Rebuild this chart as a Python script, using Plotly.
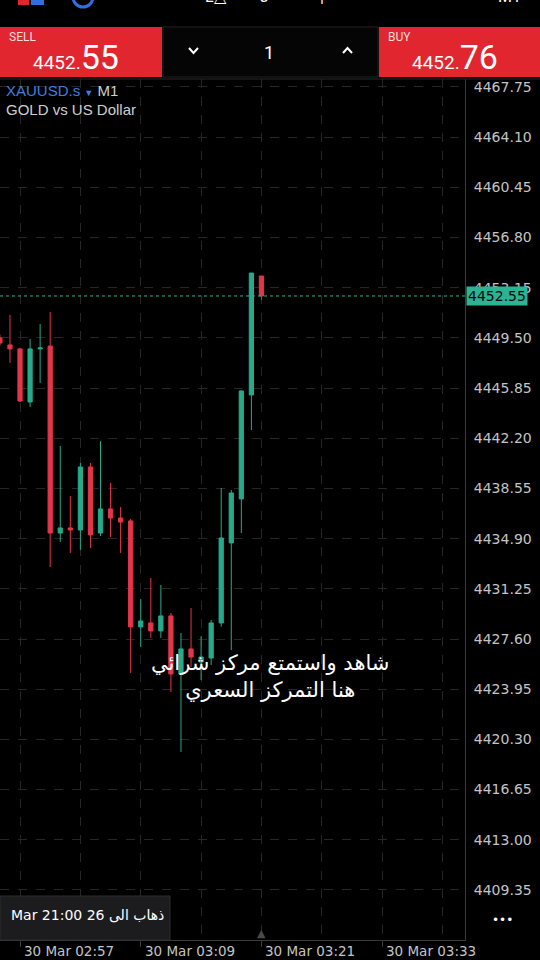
import plotly.graph_objects as go

# one-minute XAUUSD.s candles, 30 Mar
times = ["02:55", "02:56", "02:57", "02:58", "02:59", "03:00", "03:01", "03:02", "03:03",
         "03:04", "03:05", "03:06", "03:07", "03:08", "03:09", "03:10", "03:11", "03:12",
         "03:13", "03:14", "03:15", "03:16", "03:17", "03:18", "03:19", "03:20", "03:21"]
opens = [4449.49, 4448.99, 4448.70, 4444.84, 4448.70, 4448.91, 4435.31, 4435.68, 4435.53,
         4440.11, 4435.31, 4437.06, 4436.40, 4436.19, 4428.48, 4428.77, 4428.19, 4429.28,
         4425.06, 4426.88, 4425.93, 4426.22, 4428.77, 4434.59, 4437.79, 4445.35, 4454.00]
highs = [4449.75, 4451.17, 4448.77, 4449.42, 4450.51, 4451.39, 4441.64, 4438.00, 4440.40,
         4440.40, 4441.99, 4438.95, 4437.20, 4436.33, 4430.51, 4432.04, 4431.53, 4429.49,
         4428.04, 4429.86, 4427.82, 4428.99, 4438.58, 4438.44, 4445.70, 4454.22, 4454.00]
lows = [4448.95, 4447.68, 4444.84, 4444.48, 4446.22, 4432.84, 4434.66, 4433.86, 4434.08,
        4434.22, 4435.09, 4435.02, 4433.86, 4425.13, 4427.02, 4427.68, 4427.68, 4423.75,
        4419.38, 4425.57, 4424.62, 4425.71, 4428.50, 4426.80, 4435.31, 4442.80, 4452.26]
closes = [4449.13, 4448.70, 4444.91, 4448.70, 4448.77, 4435.31, 4435.68, 4435.53, 4440.11,
          4435.17, 4437.06, 4436.40, 4436.11, 4428.48, 4428.91, 4428.19, 4429.28, 4425.06,
          4426.88, 4426.29, 4426.29, 4428.77, 4434.95, 4438.22, 4445.64, 4454.22, 4452.55]

price_ticks = [4409.35, 4413.00, 4416.65, 4420.30, 4423.95, 4427.60, 4431.25, 4434.90,
               4438.55, 4442.20, 4445.85, 4449.50, 4453.15, 4456.80, 4460.45, 4464.10, 4467.75]
time_labels = ["02:57", "03:09", "03:21", "03:33"]

bid = 4452.55
ask = 4452.76
lot = "1"

DAY = "2026-03-30 "
GREEN = "#27a98a"
RED = "#e2364a"
HEAD_RED = "#e1262f"

W, H = 540, 960
ML, MR, MT, MB = 0, 75, 79, 20
PW, PH = W - ML - MR, H - MT - MB


def px(x):
    return (x - ML) / PW


def py(y):
    return (H - MB - y) / PH


fig = go.Figure()

fig.add_trace(go.Candlestick(
    x=[DAY + t for t in times],
    open=opens, high=highs, low=lows, close=closes,
    increasing=dict(line=dict(color=GREEN, width=1), fillcolor=GREEN),
    decreasing=dict(line=dict(color=RED, width=1), fillcolor=RED),
    whiskerwidth=0,
    hoverinfo="skip",
    showlegend=False,
))

shapes = []
annotations = []

# header bar
shapes.append(dict(type="rect", xref="paper", yref="paper", x0=px(0), x1=px(162),
                   y0=py(77), y1=py(27), fillcolor=HEAD_RED, line=dict(width=0), layer="above"))
shapes.append(dict(type="rect", xref="paper", yref="paper", x0=px(163), x1=px(378),
                   y0=py(77), y1=py(27), fillcolor="#050505",
                   line=dict(color="#222222", width=1), layer="above"))
shapes.append(dict(type="rect", xref="paper", yref="paper", x0=px(379), x1=px(540),
                   y0=py(77), y1=py(27), fillcolor=HEAD_RED, line=dict(width=0), layer="above"))
# chevrons
shapes.append(dict(type="path", xref="paper", yref="paper", layer="above",
                   path=f"M {px(189)},{py(48)} L {px(193.5)},{py(53)} L {px(198)},{py(48)}",
                   line=dict(color="white", width=2)))
shapes.append(dict(type="path", xref="paper", yref="paper", layer="above",
                   path=f"M {px(343)},{py(53)} L {px(347.5)},{py(48)} L {px(352)},{py(53)}",
                   line=dict(color="white", width=2)))
# cut-off toolbar icons at the very top
shapes.append(dict(type="rect", xref="paper", yref="paper", x0=px(18), x1=px(29),
                   y0=py(5), y1=py(-4), fillcolor="#e1262f", line=dict(width=0)))
shapes.append(dict(type="rect", xref="paper", yref="paper", x0=px(31), x1=px(44),
                   y0=py(5), y1=py(-4), fillcolor="#2f6fe0", line=dict(width=0)))
shapes.append(dict(type="circle", xref="paper", yref="paper", x0=px(73), x1=px(93),
                   y0=py(7), y1=py(-13), line=dict(color="#2f6fe0", width=3)))

# chart top border
shapes.append(dict(type="line", xref="paper", yref="paper", x0=px(0), x1=px(540),
                   y0=1, y1=1, line=dict(color="#2a2a2a", width=1)))

# current bid line
shapes.append(dict(type="line", xref="paper", yref="y", x0=0, x1=1, y0=bid, y1=bid,
                   line=dict(color="#2bb394", width=1, dash="dot")))

# go-to box
shapes.append(dict(type="rect", xref="paper", yref="paper", x0=px(0), x1=px(170),
                   y0=py(940), y1=py(896), fillcolor="#1c1c1e",
                   line=dict(color="#2c2c2e", width=1), layer="above"))


def txt(x, y, text, size, color="white", xanchor="left", family="Roboto", **kw):
    annotations.append(dict(xref="paper", yref="paper", x=px(x), y=py(y), text=text,
                            showarrow=False, xanchor=xanchor, yanchor="middle",
                            font=dict(size=size, color=color, family=family), **kw))


txt(7, 37, "SELL", 12, "rgba(255,255,255,0.85)")
b_int, b_dec = f"{bid:.2f}".split(".")
a_int, a_dec = f"{ask:.2f}".split(".")
txt(121, 57, f"{b_int}.<span style='font-size:34px'>{b_dec}</span>", 19, xanchor="right")
txt(386, 37, "BUY", 12, "rgba(255,255,255,0.85)")
txt(500, 57, f"{a_int}.<span style='font-size:34px'>{a_dec}</span>", 19, xanchor="right")
txt(269, 52, lot, 18, xanchor="center")

# toolbar fragments cut by the top edge
txt(216, -3, "L△", 16, xanchor="center")
txt(264, -3, "J", 16, xanchor="center")
txt(322, -3, "|", 16, xanchor="center")
txt(510, -3, "M1", 16, xanchor="center")

txt(4, 90, "<span style='color:#3f7fe0'>XAUUSD.s</span> "
           "<span style='color:#3f7fe0;font-size:9px'>▼</span> M1", 15, "#d0d0d0",
    family="Liberation Sans")
txt(4, 109, "GOLD vs US Dollar", 15, "#d0d0d0", family="Liberation Sans")

txt(270, 676, "شاهد واستمتع مركز شرائي<br>هنا التمركز السعري", 21, xanchor="center",
    family="DejaVu Sans", align="center")

txt(9, 915, "\u202bذهاب الى 26 Mar 21:00\u202c", 14, family="DejaVu Sans")

txt(502, 920, "•••", 12, xanchor="center", family="DejaVu Sans")

# current price tag on the axis
annotations.append(dict(xref="paper", yref="y", x=1, y=bid, xanchor="left", yanchor="middle",
                        xshift=1, text=f"{bid:.2f}", showarrow=False, bgcolor="#2bb394",
                        borderpad=1, font=dict(size=14, color="#0a0a0a", family="DejaVu Sans")))

# time labels, left-aligned at their ticks
for t in time_labels:
    annotations.append(dict(xref="x", yref="paper", x=DAY + t, y=0, xanchor="left",
                            yanchor="top", xshift=2, yshift=-1, text="30 Mar " + t,
                            showarrow=False,
                            font=dict(size=13.5, color="#c4c4c4", family="DejaVu Sans")))

# shift marker on the time axis
annotations.append(dict(xref="x", yref="paper", x=DAY + "03:21", y=0, yanchor="bottom",
                        text="▲", showarrow=False, yshift=-2,
                        font=dict(size=11, color="#4a4a4a", family="DejaVu Sans")))

fig.update_layout(
    width=W, height=H,
    margin=dict(l=ML, r=MR, t=MT, b=MB),
    paper_bgcolor="black",
    plot_bgcolor="black",
    boxgap=0.4,
    hovermode=False,
    dragmode=False,
    shapes=shapes,
    annotations=annotations,
    xaxis=dict(
        type="date",
        range=[DAY + "02:55:00.6", DAY + "03:41:14"],
        rangeslider=dict(visible=False),
        tickvals=[DAY + t for t in time_labels],
        showticklabels=False,
        ticks="outside", ticklen=6, tickcolor="#3a3a3a",
        showgrid=True, gridcolor="#262626", griddash="dash", gridwidth=1,
        minor=dict(dtick=6 * 60 * 1000, tick0=DAY + "02:57", showgrid=True,
                   gridcolor="#262626", griddash="dash", gridwidth=1),
        showline=True, linecolor="#3a3a3a", linewidth=1,
        zeroline=False, fixedrange=True,
    ),
    yaxis=dict(
        side="right",
        range=[4405.71, 4468.33],
        tickvals=price_ticks,
        ticktext=[f"{v:.2f}" for v in price_ticks],
        tickfont=dict(size=14, color="#c4c4c4", family="DejaVu Sans"),
        ticklabelstandoff=5,
        showgrid=True, gridcolor="#262626", griddash="dash", gridwidth=1,
        showline=True, linecolor="#3a3a3a", linewidth=1,
        zeroline=False, fixedrange=True,
    ),
)

fig.write_html("out.html", config={"displayModeBar": False, "staticPlot": True},
               post_script="document.body.style.margin='0px';document.body.style.background='black';")
